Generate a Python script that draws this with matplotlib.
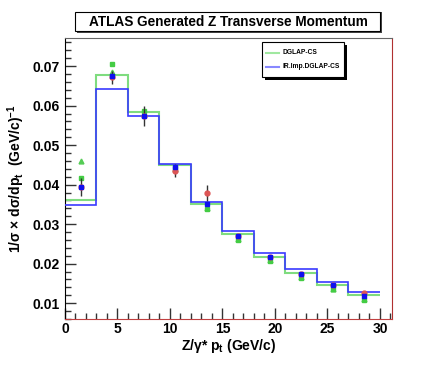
import matplotlib
matplotlib.use("Agg")
import matplotlib.pyplot as plt
import numpy as np
from matplotlib.patches import Rectangle
from matplotlib.ticker import MultipleLocator

plt.rcParams['font.family'] = ['Liberation Sans', 'DejaVu Sans']
plt.rcParams['mathtext.fontset'] = 'custom'
plt.rcParams['mathtext.rm'] = 'Liberation Sans:bold'
plt.rcParams['mathtext.it'] = 'Liberation Sans:bold'
plt.rcParams['mathtext.bf'] = 'Liberation Sans:bold'

bin_edges = [0, 3, 6, 9, 12, 15, 18, 21, 24, 27, 30]
bin_centers = [1.5, 4.5, 7.5, 10.5, 13.5, 16.5, 19.5, 22.5, 25.5, 28.5]

hist_dglap = [0.0362, 0.0678, 0.0583, 0.0450, 0.0350, 0.0275, 0.0217, 0.0176, 0.0146, 0.0121]
hist_irimp = [0.0348, 0.0642, 0.0573, 0.0453, 0.0356, 0.0283, 0.0228, 0.0186, 0.0153, 0.0128]

data_vals = [0.0394, 0.0672, 0.0574, 0.0435, 0.0378, 0.0270, 0.0216, 0.0173, 0.0145, 0.0125]
data_errs = [0.0024, 0.0016, 0.0025, 0.0016, 0.0020, 0.0005, 0.0005, 0.0005, 0.0005, 0.0005]
blue_pts = [0.0394, 0.0675, 0.0574, 0.0445, 0.0350, 0.0270, 0.0216, 0.0173, 0.0145, 0.0118]
green_sq = [0.0416, 0.0705, 0.0586, 0.0442, 0.0338, 0.0260, 0.0206, 0.0164, 0.0135, 0.0109]
green_tri = [0.0460, 0.0685, 0.0580, 0.0440, 0.0340, 0.0262, 0.0208, 0.0166, 0.0137, 0.0111]

fig = plt.figure(figsize=(4.36, 3.77), dpi=100)
ax = fig.add_axes([0.149, 0.154, 0.750, 0.745])

ax.stairs(hist_dglap, bin_edges, baseline=None, color='#7fdc7f', lw=1.5, zorder=2)
ax.stairs(hist_irimp, bin_edges, baseline=None, color='#3a3aff', lw=1.2, zorder=3)

ax.plot(bin_centers, green_tri, linestyle='none', marker='^', ms=3.5, color='#55cc55', zorder=4)
ax.plot(bin_centers, green_sq, linestyle='none', marker='s', ms=3.5, color='#44cc44', zorder=4)
ax.errorbar(bin_centers, data_vals, yerr=data_errs, fmt='o', ms=3.5, color='#dd5555',
            ecolor='#333333', elinewidth=1, capsize=0, zorder=5)
ax.plot(bin_centers, blue_pts, linestyle='none', marker='s', ms=3.5, color='#1010ee', zorder=6)

ax.set_xlim(0, 31.14)
ax.set_ylim(0.006, 0.0771)
ax.xaxis.set_major_locator(MultipleLocator(5))
ax.xaxis.set_minor_locator(MultipleLocator(1))
ax.yaxis.set_major_locator(MultipleLocator(0.01))
ax.yaxis.set_minor_locator(MultipleLocator(0.002))
ax.tick_params(which='both', direction='in', top=False, right=False, labelsize=10, width=1, colors='#333333', labelcolor='black')
ax.tick_params(which='major', length=8)
ax.tick_params(which='minor', length=4)
ax.tick_params(axis='x', pad=2)
ax.yaxis.set_major_formatter(matplotlib.ticker.FuncFormatter(lambda v, p: f"{v:.2f}"))
for lab in ax.get_xticklabels() + ax.get_yticklabels():
    lab.set_fontweight('bold')
ax.spines['right'].set_color('#b03030')
ax.spines['bottom'].set_color('#c04040')
ax.spines['top'].set_color('#666666')

ax.set_xlabel(r'Z/$\gamma$* p$_{\rm t}$ (GeV/c)', fontsize=10, fontweight='bold', labelpad=1)
ax.set_ylabel(r'1/$\sigma$ $\times$ d$\sigma$/dp$_{\rm t}$  (GeV/c)$^{-1}$', fontsize=10, fontweight='bold', labelpad=4)

# Title box with shadow
fig.patches.append(Rectangle((77/436, 1-33/377), 305/436, 21/377, transform=fig.transFigure,
                             facecolor='#444444', edgecolor='none', zorder=1))
fig.patches.append(Rectangle((75/436, 1-31/377), 305/436, 19/377, transform=fig.transFigure,
                             facecolor='white', edgecolor='black', lw=0.8, zorder=2))
fig.text(228/436, 1-21.5/377, 'ATLAS Generated Z Transverse Momentum', ha='center', va='center',
         fontsize=9.8, fontweight='bold', zorder=3)

# Legend box with shadow
lx0, ly0, lw_, lh_ = 262, 42, 82, 35
ax_leg_sh = Rectangle(((lx0+3)/436, 1-(ly0+lh_+3)/377), lw_/436, lh_/377, transform=fig.transFigure,
                      facecolor='black', edgecolor='none', zorder=10)
ax_leg = Rectangle((lx0/436, 1-(ly0+lh_)/377), lw_/436, lh_/377, transform=fig.transFigure,
                   facecolor='white', edgecolor='black', lw=0.8, zorder=11)
fig.artists.append(ax_leg_sh)
fig.artists.append(ax_leg)
labels = ['DGLAP-CS', 'IR.Imp.DGLAP-CS']
colors = ['#a0e8a0', '#8888ff']
for i, (lab, c) in enumerate(zip(labels, colors)):
    yy = 1 - (ly0 + 11 + i*14) / 377
    fig.add_artist(matplotlib.lines.Line2D([(lx0+4)/436, (lx0+17)/436], [yy, yy], transform=fig.transFigure,
                                           color=c, lw=1.5, zorder=12))
    fig.text((lx0+20)/436, yy, lab, fontsize=4.8, fontweight='bold', va='center', ha='left', zorder=12)

fig.savefig('out.png', dpi=100)
